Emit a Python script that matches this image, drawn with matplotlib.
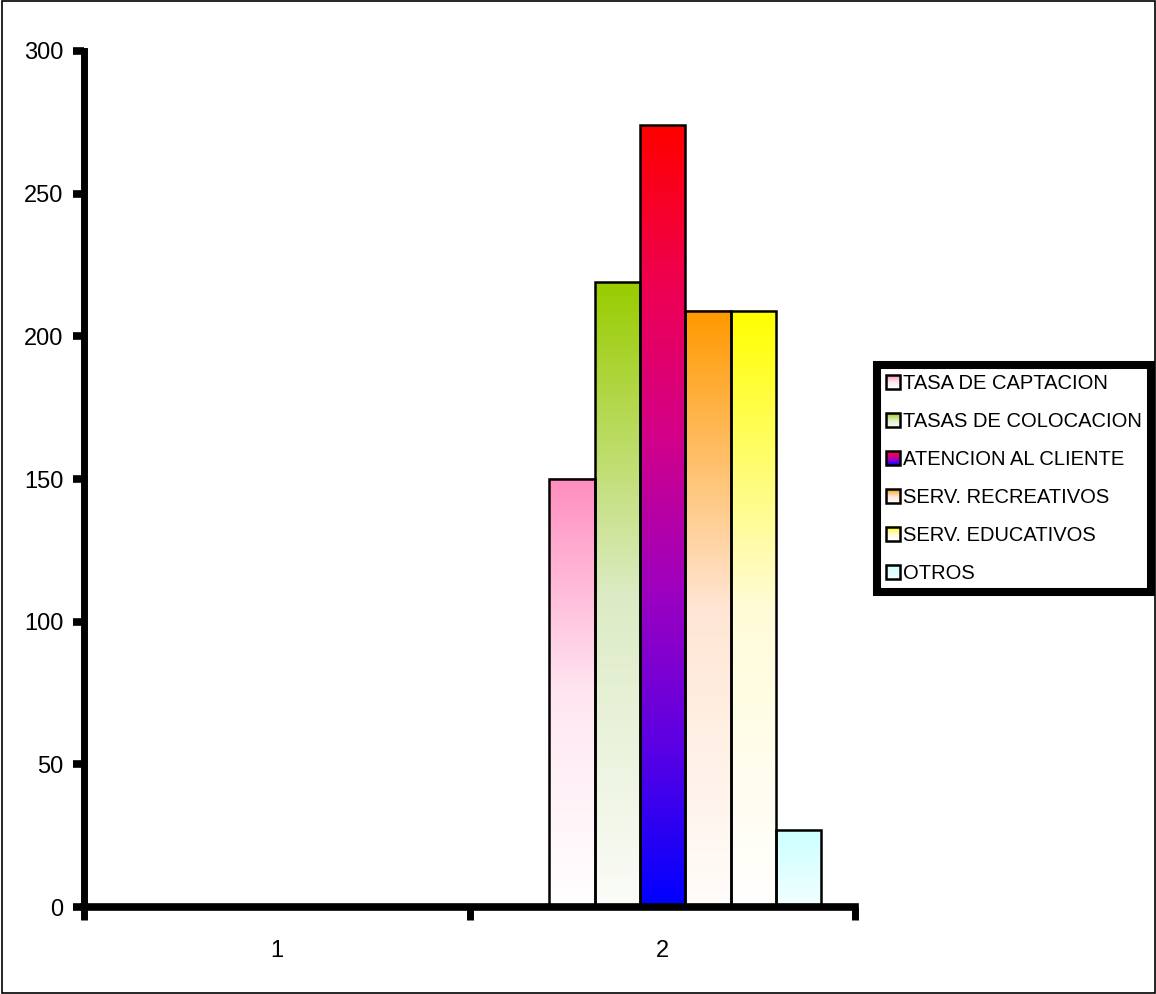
import numpy as np
import matplotlib.pyplot as plt
from matplotlib.colors import LinearSegmentedColormap
from matplotlib.legend_handler import HandlerBase
from matplotlib.patches import Patch, Rectangle

plt.rcParams['font.family'] = ['Liberation Sans', 'DejaVu Sans']

# datos por serie: valor en la categoria 1 y en la categoria 2
categorias = ['1', '2']
series = ['TASA DE CAPTACION', 'TASAS DE COLOCACION', 'ATENCION AL CLIENTE',
          'SERV. RECREATIVOS', 'SERV. EDUCATIVOS', 'OTROS']
captacion = [0, 150]
colocacion = [0, 219]
atencion = [0, 274]
recreativos = [0, 209]
educativos = [0, 209]
otros = [0, 27]
valores = [captacion, colocacion, atencion, recreativos, educativos, otros]

# degradados (de abajo hacia arriba)
degradados = [
    ['#ffffff', '#ffe6f1', '#ff8ec0'],
    ['#fbfcf8', '#dcebc4', '#99cc00'],
    ['#0000ff', '#5a00e4', '#9c00c0', '#d2008a', '#ee0050', '#ff0000'],
    ['#fffcfa', '#ffe6d4', '#ff9900'],
    ['#ffffff', '#fffbd8', '#ffff00'],
    ['#f2ffff', '#ccffff'],
]
cmaps = [LinearSegmentedColormap.from_list(f'g{i}', c) for i, c in enumerate(degradados)]

# 7 huecos por categoria (el primero vacio), separacion del 150%
n_huecos = 7
ancho = 1 / (n_huecos + 1.5)


class HandlerDegradado(HandlerBase):
    def __init__(self, cmap):
        super().__init__()
        self.cmap = cmap

    def create_artists(self, legend, orig_handle, xdescent, ydescent,
                       width, height, fontsize, trans):
        lado = min(width, height)
        x0 = -xdescent + (width - lado) / 2
        y0 = -ydescent + (height - lado) / 2
        n = 14
        arts = []
        for k in range(n):
            r = Rectangle((x0, y0 + k * lado / n), lado, lado / n + 0.3,
                          facecolor=self.cmap((k + 0.5) / n), edgecolor='none',
                          transform=trans)
            arts.append(r)
        arts.append(Rectangle((x0, y0), lado, lado, fill=False, edgecolor='black',
                              linewidth=1.8, transform=trans))
        return arts


fig = plt.figure(figsize=(11.56, 9.94), dpi=100)
ax = fig.add_axes([0.0727, 0.0875, 0.6673, 0.8612])

grad = np.linspace(0, 1, 256).reshape(-1, 1)
for i, vals in enumerate(valores):
    for c, v in enumerate(vals):
        if v == 0:
            continue
        left = (c + 1) - 0.5 + 0.75 * ancho + (i + 1) * ancho
        ax.imshow(grad, cmap=cmaps[i], extent=[left, left + ancho, 0, v],
                  origin='lower', aspect='auto', interpolation='bicubic', zorder=1)
        ax.bar(left, v, width=ancho, align='edge', facecolor='none',
               edgecolor='black', linewidth=1.8, zorder=2)

ax.set_xlim(0.5, 2.5)
ax.set_ylim(0, 300)
ax.set_yticks(np.arange(0, 301, 50))
ax.set_xticks([0.5, 1.5, 2.5])
ax.set_xticks([1, 2], minor=True)
ax.set_xticklabels(categorias, minor=True)
ax.tick_params(axis='x', which='major', direction='out', length=9, width=5,
               labelbottom=False)
ax.tick_params(axis='x', which='minor', length=0, pad=24, labelsize=17)
ax.tick_params(axis='y', direction='out', length=8, width=5.5, pad=7, labelsize=17)

for s in ['top', 'right']:
    ax.spines[s].set_visible(False)
ax.spines['left'].set_linewidth(5)
ax.spines['bottom'].set_linewidth(5.5)
ax.spines['bottom'].set_zorder(3)

handles = [Patch(label=s) for s in series]
hmap = {h: HandlerDegradado(cm) for h, cm in zip(handles, cmaps)}
leg = fig.legend(handles=handles, handler_map=hmap, loc='upper left',
                 bbox_to_anchor=(877 / 1156, 1 - 365 / 994),
                 bbox_transform=fig.transFigure, frameon=True, fontsize=14.5,
                 fancybox=False, edgecolor='black', framealpha=1,
                 borderaxespad=0, borderpad=0.45, handlelength=0.68,
                 handleheight=0.68, handletextpad=0.15, labelspacing=0.94)
leg.get_frame().set_linewidth(5.8)

# marco exterior de la figura
fig.patches.append(Rectangle((0.002, 0.001), 0.997, 0.998, transform=fig.transFigure,
                             fill=False, edgecolor='black', linewidth=1.2))

fig.savefig('out.png', dpi=100)
